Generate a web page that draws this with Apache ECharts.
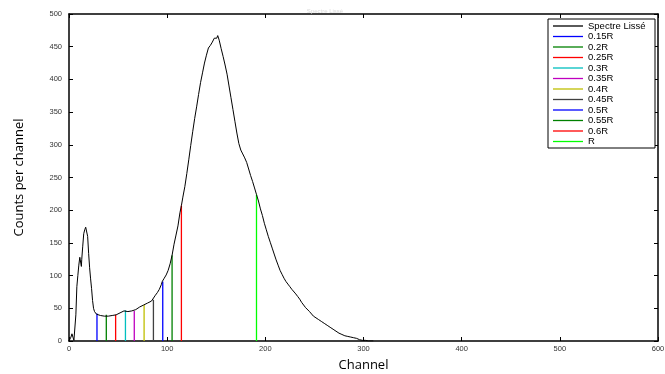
<!DOCTYPE html>
<html><head><meta charset="utf-8">
<script src="https://cdn.jsdelivr.net/npm/echarts@6/dist/echarts.min.js"></script>
<style>html,body{margin:0;padding:0;background:#fff}#c{width:665px;height:374px}</style>
</head><body><div id="c"></div>
<script>
// Smoothed spectrum: channel and counts
var channels = [0,1,2,3,4,5,6,7,8,9,10,11,12,12.6,13,14,15,16,17,18,19,20,21,22,23,24,25,26,27,28,30,32,34,36,38,40,42,44,46,48,50,52,54,56,57,58,60,62,64,66,68,70,72,74,76,78,80,82,84,86,88,90,92,94,95,97,99,101,103,105,107,109,111,113,114.5,116,118,120,122,124,126,128,130,132,134,136,138,140,142,144,146,148,149.5,150.5,151.5,153,155,157,159,161,163,165,167,169,171,173,175,177,179,181,183,185,187,189,191,193,195,197,199,201,203,205,207,209,211,213,215,217,219,221,223,225,227,229,231,233,235,237,239,241,243,245,247,249,251,254,257,260,263,266,269,272,275,278,281,284,287,290,293,296,299,302,305,310];
var counts   = [0,0,6,11,6,1,2,40,83,100,116,128,131,114,125,145,164,170,174,177,160,134,112,95,80,62,50,45,42,41,40,39,38,38,39,38,38,39,39,40,42,43,44,46,47,46,45,46,46,46,48,50,52,54,55,57,58,60,61,63,70,74,79,86,91,96,101,108,118,131,148,162,176,196,207,220,236,256,277,299,320,340,358,377,395,410,425,437,448,452,457,463,466,463,467,460,447,435,422,408,390,372,354,336,318,302,292,286,280,273,263,253,244,234,224,214,202,192,180,170,160,151,142,133,124,116,108,102,96,91,87,83,79,76,72,68,64,59,55,51,48,45,42,38,36,33,30,27,24,21,18,15,12,10,8,7,6,5,4,2,1,1,0,0];
// Marker lines
var markerNames    = ['0.15R','0.2R','0.25R','0.3R','0.35R','0.4R','0.45R','0.5R','0.55R','0.6R','R'];
var markerChannels = [28.5,38,47.5,57.5,66.5,76.5,86,95.5,105,114.5,191];
var markerHeights  = [42,40,40,47,46,55,63,91,131,207,224];
var markerColors   = ['#0000ff','#008000','#ff0000','#00bfbf','#bf00bf','#bfbf00','#404040','#0000ff','#008000','#ff0000','#00ff00'];
var xTicks = [0,100,200,300,400,500,600];
var yTicks = [0,50,100,150,200,250,300,350,400,450,500];

var chart = echarts.init(document.getElementById('c'), null, {renderer:'canvas'});
var series = [{
  name:'Spectre Lissé', type:'line', symbol:'none', showSymbol:false, animation:false,
  data: channels.map(function(c,i){return [c,counts[i]];}),
  lineStyle:{color:'#000',width:1}, itemStyle:{color:'#000'}, z:3
}];
markerNames.forEach(function(n,i){
  series.push({name:n,type:'line',symbol:'none',showSymbol:false,animation:false,
    data:[[markerChannels[i],0],[markerChannels[i],markerHeights[i]]],
    lineStyle:{color:markerColors[i],width:1.3}, itemStyle:{color:markerColors[i]}, z:2});
});
var axisCommon = {
  axisLine:{show:true,onZero:false,lineStyle:{color:'#000',width:1.5}},
  axisTick:{show:true,inside:true,length:4,lineStyle:{color:'#000'}},
  splitLine:{show:false}
};
var labelStyle = {color:'#333',fontSize:7.5,fontFamily:'Liberation Sans, Arial'};
chart.setOption({
  animation:false,
  backgroundColor:'#fff',
  title:{text:'Spectre Lissé',left:320,top:3,textAlign:'center',textStyle:{color:'#d8d8d8',fontSize:6,fontWeight:'normal',fontFamily:'Liberation Sans'}},
  grid:{left:69,right:7,top:14,bottom:33,containLabel:false,outerBoundsMode:'none'},
  graphic:[{type:'rect',shape:{x:548,y:19,width:107,height:129},style:{fill:'#fff',stroke:'#000',lineWidth:1},z:5}],
  legend:{
    show:true, orient:'vertical', left:549, top:19, padding:[2,4,2,4],
    icon:'rect', itemWidth:30, itemHeight:1.3, itemGap:0.5, z:10,
    data: ['Spectre Lissé'].concat(markerNames),
    textStyle:{fontSize:9.5,lineHeight:8.5,color:'#000',fontFamily:'Liberation Sans, Arial',padding:[0,0,0,0]}
  },
  xAxis:[
    Object.assign({type:'value',min:0,max:600,interval:100,position:'bottom',
      name:'Channel',nameLocation:'middle',nameGap:18,
      nameTextStyle:{fontSize:13,color:'#000',fontFamily:'Open Sans'},
      axisLabel:Object.assign({margin:4,formatter:function(v){return xTicks.indexOf(v)>=0?String(v):'';}},labelStyle)},axisCommon),
    Object.assign({type:'value',min:0,max:600,interval:100,position:'top',axisLabel:{show:false}},axisCommon)
  ],
  yAxis:[
    Object.assign({type:'value',min:0,max:500,interval:50,position:'left',
      name:'Counts per channel',nameLocation:'middle',nameGap:43,
      nameTextStyle:{fontSize:13,color:'#000',fontFamily:'Open Sans'},
      axisLabel:Object.assign({margin:7,formatter:function(v){return yTicks.indexOf(v)>=0?String(v):'';}},labelStyle)},axisCommon),
    Object.assign({type:'value',min:0,max:500,interval:50,position:'right',axisLabel:{show:false}},axisCommon)
  ],
  series: series
});
</script></body></html>
